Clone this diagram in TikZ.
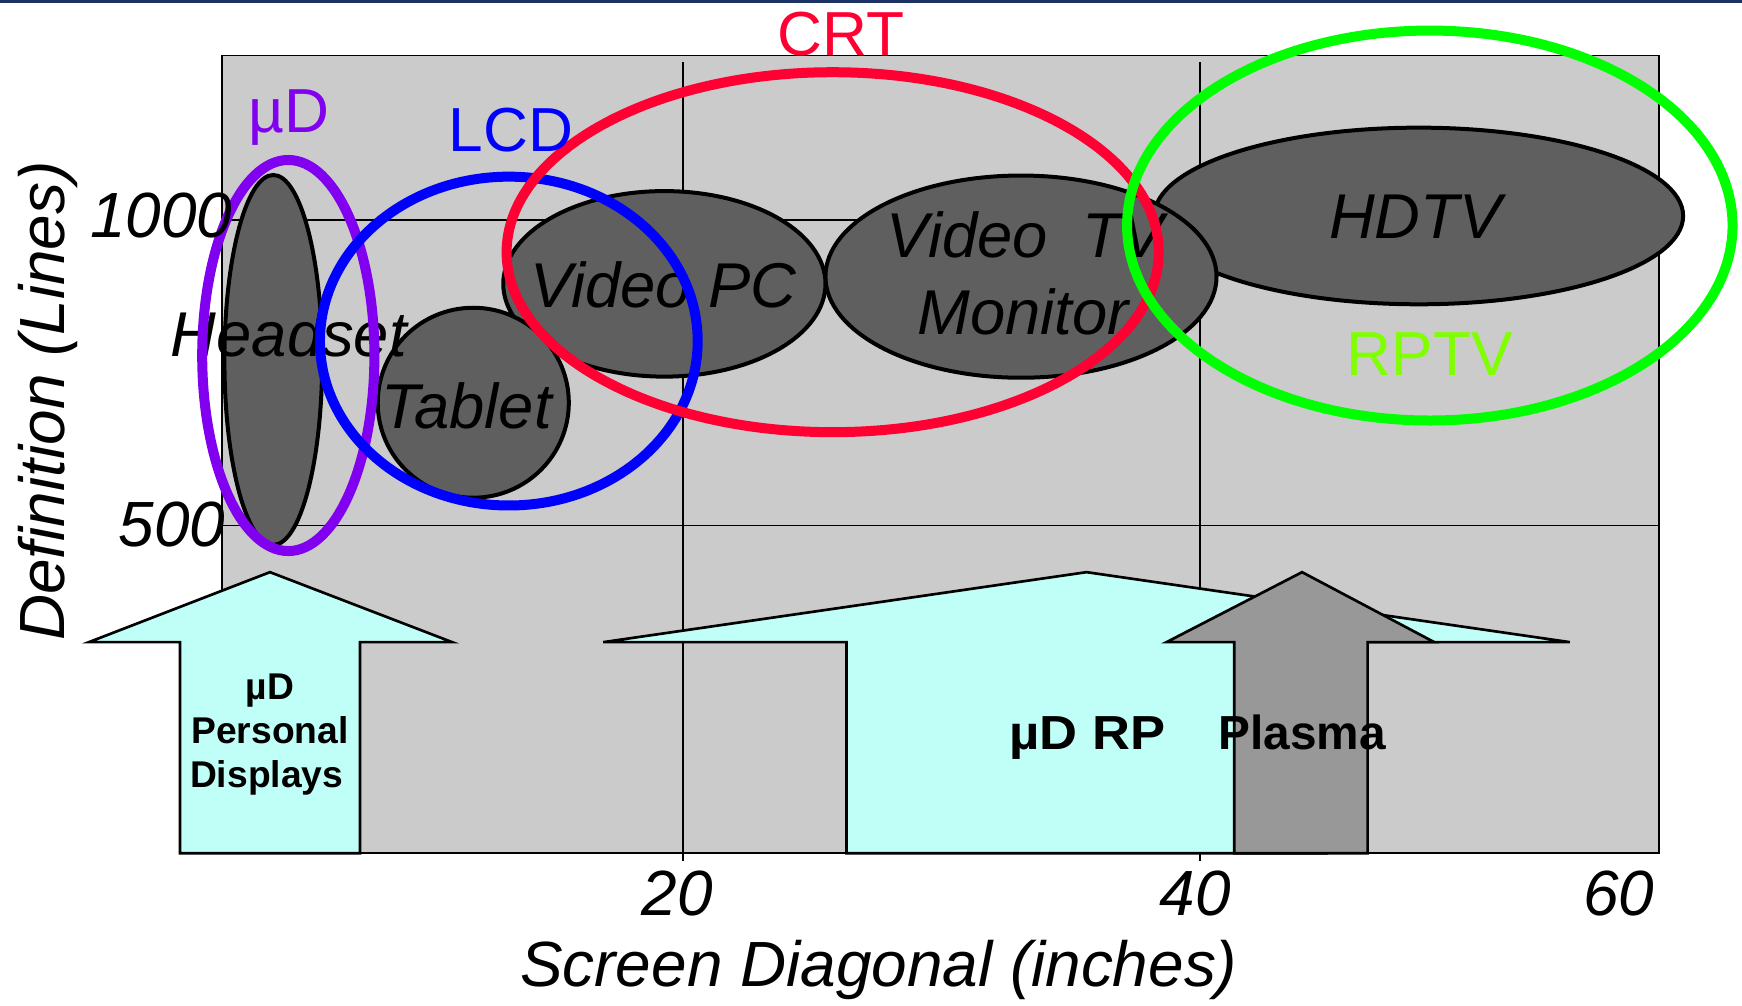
\documentclass[tikz,border=0pt]{standalone}
\usepackage{fontspec}
\usepackage{graphicx}
\setmainfont{Liberation Sans}
\usetikzlibrary{shapes.geometric}
\definecolor{navyline}{RGB}{28,50,100}
\definecolor{plotgray}{RGB}{203,203,203}
\definecolor{blobgray}{RGB}{95,95,95}
\definecolor{arrowcyan}{RGB}{191,255,247}
\definecolor{plasmagray}{RGB}{152,152,152}
\definecolor{purp}{RGB}{130,0,240}
\definecolor{lcdblue}{RGB}{0,0,255}
\definecolor{crtred}{RGB}{255,0,51}
\definecolor{rpgreen}{RGB}{0,255,0}
\definecolor{rptvtext}{RGB}{128,255,0}
\begin{document}
\begin{tikzpicture}[x=1pt,y=-1pt,
  blob/.style={ellipse, draw=black, line width=3.6, fill=blobgray, inner sep=0pt, outer sep=0pt},
  ring/.style={ellipse, line width=9, inner sep=0pt, outer sep=0pt},
  gridline/.style={line width=1.6, black},
  blockarrow/.style={draw=black, line width=2.4, line join=miter},
  itlbl/.style={anchor=base, inner sep=0pt, font=\fontsize{57}{60}\selectfont\itshape},
  axlbl/.style={anchor=base, inner sep=0pt, font=\fontsize{57.5}{60}\selectfont\itshape},
  techlbl/.style={anchor=base, inner sep=0pt, font=\fontsize{56}{60}\selectfont},
  smallbold/.style={anchor=base, inner sep=0pt, font=\fontsize{33.5}{38}\selectfont\bfseries},
  bigbold/.style={anchor=base, inner sep=0pt, font=\fontsize{43}{48}\selectfont\bfseries}]
\useasboundingbox (0,0) rectangle (1568,905);
% top rule
\draw[navyline, line width=2.5] (0,1.2) -- (1568,1.2);
% plot area
\fill[plotgray] (200,50) rectangle (1493,768);
\draw[gridline] (615,56) -- (615,775);
\draw[gridline] (1080,56) -- (1080,775);
\draw[gridline] (200,198) -- (1493,198);
\draw[gridline] (200,473) -- (1493,473);
\draw[line width=1.6] (200,50) rectangle (1493,768);
% block arrows
\draw[blockarrow, fill=arrowcyan] (162,768) -- (162,578) -- (80,578) -- (243,515) -- (407,578) -- (324,578) -- (324,768) -- cycle;
\draw[blockarrow, fill=arrowcyan] (762,768) -- (762,578) -- (543,578) -- (978,515) -- (1413,578) -- (1194,578) -- (1194,768) -- cycle;
\draw[blockarrow, fill=plasmagray] (1111,768) -- (1111,578) -- (1050,578) -- (1172,515) -- (1291,578) -- (1231,578) -- (1231,768) -- cycle;
% device ellipses
\node[blob, minimum width=476, minimum height=159] (hdtv) at (1277,194.4) {};
\node[blob, minimum width=352, minimum height=182] (vtv) at (919,249) {};
\node[blob, minimum width=290, minimum height=167] (vpc) at (598,255.5) {};
\node[blob, minimum width=172, minimum height=171] (tab) at (426,362.5) {};
\node[blob, minimum width=88, minimum height=333] (head) at (246,324) {};
% device labels
\node[itlbl] (thdtv) at (1274,215) {HDTV};
\node[itlbl] (tvtv1) at (923,232) {Video\ \ TV};
\node[itlbl] (tvtv2) at (921,301.5) {Monitor};
\node[itlbl] (tvpc) at (597,276.5) {Video PC};
\node[itlbl] (ttab) at (420,386) {Tablet};
\node[itlbl] (thead) at (260,321) {Headset};
% technology rings
\node[ring, draw=purp, minimum width=155, minimum height=352] (ud) at (259.5,320) {};
\node[ring, draw=lcdblue, minimum width=340, minimum height=296] (lcd) at (458,307) {};
\node[ring, draw=crtred, minimum width=587, minimum height=324] (crt) at (749.5,227) {};
\node[ring, draw=rpgreen, minimum width=545, minimum height=351] (rptv) at (1287,203) {};
\node[techlbl, text=purp] (tud) at (260,119) {µD};
\node[techlbl, text=lcdblue] (tlcd) at (460,136.6) {LCD};
\node[techlbl, text=crtred] (tcrt) at (757,50) {CRT};
\node[techlbl, text=rptvtext] (trptv) at (1287,337.6) {RPTV};
% axes labels
\node[axlbl] (y1000) at (145,214) {1000};
\node[axlbl] (y500) at (155,492) {500};
\node[axlbl] (x20) at (609.5,823.6) {20};
\node[axlbl] (x40) at (1076,823.6) {40};
\node[axlbl] (x60) at (1457,823.6) {60};
\node[axlbl] (xlab) at (791,888) {Screen Diagonal (inches)};
\node[axlbl, rotate=90] (ylab) at (58,361) {Definition (Lines)};
% arrow labels
\node[smallbold] (pd1) at (243,630) {µD};
\node[smallbold] (pd2) at (243,669.6) {Personal};
\node[smallbold] (pd3) at (240,709) {Displays};
\node[bigbold] (udrp) at (978.8,675) {\scalebox{1.1}[1]{µD RP}};
\node[bigbold] (plasma) at (1172,675) {Plasma};
\end{tikzpicture}
\end{document}
